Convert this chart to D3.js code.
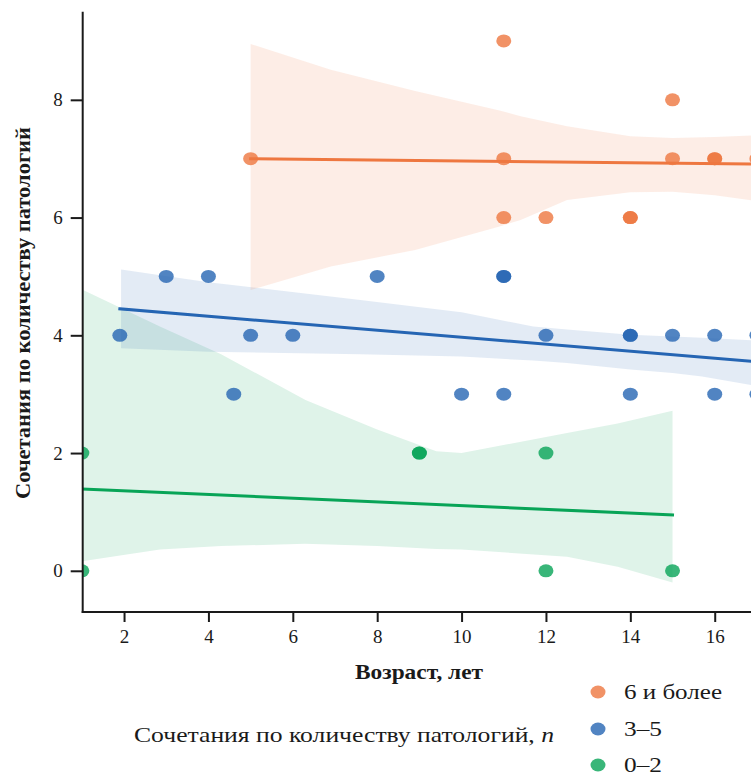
<!DOCTYPE html>
<html lang="ru">
<head>
    <meta charset="UTF-8">
    <title>Сочетания по количеству патологий</title>
    <style>
        body { margin: 0; background: #fff; }
        svg { display: block; }
        svg text { font-family: "Liberation Serif", "Times New Roman", "DejaVu Serif", serif; }
        .axis path, .axis line { stroke: #1a1a1a; stroke-width: 2; }
        .axis text { font-size: 19px; fill: #1a1a1a; }
        .lbl { font-size: 21px; font-weight: bold; fill: #1a1a1a; }
        .leg { font-size: 21px; fill: #1a1a1a; }
    </style>
</head>
<body>
    <svg width="751" height="777"></svg>
    <script src="https://d3js.org/d3.v7.min.js"></script>
    <script>
        // groups (legend order)
        const groups = ["6 и более", "3–5", "0–2"];
        const colors = ["#ee7740", "#2565b3", "#08a457"];

        // scatter points: age (x) and number of combined pathologies (y)
        const pointsX = [
            [5, 11, 11, 11, 12, 14, 14, 15, 15, 16, 16, 17],
            [1.9, 3, 4, 8, 11, 11, 5, 6, 12, 14, 14, 15, 16, 17, 4.6, 10, 11, 14, 16, 17],
            [1, 1, 9, 9, 12, 12, 15]
        ];
        const pointsY = [
            [7, 9, 7, 6, 6, 6, 6, 8, 7, 7, 7, 7],
            [4, 5, 5, 5, 5, 5, 4, 4, 4, 4, 4, 4, 4, 4, 3, 3, 3, 3, 3, 3],
            [2, 0, 2, 2, 2, 0, 0]
        ];

        // regression lines (start and end)
        const fitX = [[5, 17], [1.9, 17], [1, 15]];
        const fitY = [[7.0, 6.91], [4.45, 3.55], [1.39, 0.95]];

        // confidence bands
        const bandX = [
            [5, 6.9, 8.9, 10.9, 11.4, 12.5, 14, 15, 16, 17],
            [1.93, 4, 7.6, 10, 11.7, 12.5, 14, 15, 15.7, 17],
            [1, 2.85, 4.3, 6.3, 8, 9.4, 10, 12.5, 13.7, 15]
        ];
        const bandLo = [
            [4.77, 5.17, 5.45, 5.85, 5.96, 6.3, 6.43, 6.44, 6.38, 6.28],
            [3.78, 3.72, 3.68, 3.64, 3.57, 3.53, 3.42, 3.36, 3.3, 3.14],
            [0.16, 0.36, 0.42, 0.46, 0.42, 0.37, 0.36, 0.24, 0.07, -0.2]
        ];
        const bandHi = [
            [8.95, 8.51, 8.15, 7.82, 7.72, 7.55, 7.38, 7.35, 7.37, 7.4],
            [5.12, 4.9, 4.6, 4.39, 4.15, 4.1, 4.01, 3.98, 3.96, 3.91],
            [4.78, 4.15, 3.68, 2.9, 2.4, 2.03, 2.0, 2.34, 2.5, 2.72]
        ];

        const xTicks = [2, 4, 6, 8, 10, 12, 14, 16];
        const yTicks = [0, 2, 4, 6, 8];

        const svg = d3.select("svg");
        const plotLeft = 82.7, plotRight = 751, plotTop = 12.7, plotBottom = 612;

        const x = d3.scaleLinear().domain([1.02, 16.86]).range([plotLeft, plotRight]);
        const y = d3.scaleLinear().domain([-0.7, 9.48]).range([plotBottom, plotTop]);

        svg.append("clipPath").attr("id", "plot")
            .append("rect")
            .attr("x", plotLeft).attr("y", plotTop)
            .attr("width", plotRight - plotLeft).attr("height", plotBottom - plotTop);

        const plot = svg.append("g").attr("clip-path", "url(#plot)");

        // bands
        const area = d3.area()
            .x(d => x(d.x))
            .y0(d => y(d.lo))
            .y1(d => y(d.hi));
        [2, 1, 0].forEach(g => {
            const rows = bandX[g].map((v, i) => ({ x: v, lo: bandLo[g][i], hi: bandHi[g][i] }));
            plot.append("path")
                .attr("d", area(rows))
                .attr("fill", colors[g])
                .attr("fill-opacity", 0.13);
        });

        // regression lines
        const line = d3.line().x(d => x(d[0])).y(d => y(d[1]));
        [2, 1, 0].forEach(g => {
            plot.append("path")
                .attr("d", line(fitX[g].map((v, i) => [v, fitY[g][i]])))
                .attr("fill", "none")
                .attr("stroke", colors[g])
                .attr("stroke-width", 3)
                .attr("stroke-linecap", "square");
        });

        // points
        [2, 1, 0].forEach(g => {
            plot.selectAll(".pt" + g)
                .data(pointsX[g].map((v, i) => [v, pointsY[g][i]]))
                .enter()
                .append("ellipse")
                .attr("cx", d => x(d[0]))
                .attr("cy", d => y(d[1]))
                .attr("rx", 7.5)
                .attr("ry", 6.5)
                .attr("fill", colors[g])
                .attr("fill-opacity", 0.8);
        });

        // axes
        svg.append("g")
            .attr("class", "axis")
            .attr("transform", `translate(0,${plotBottom})`)
            .call(d3.axisBottom(x).tickValues(xTicks).tickSize(10).tickPadding(8).tickSizeOuter(0))
            .call(g => g.select(".domain").attr("d", `M${plotLeft},0H${plotRight}`));

        svg.append("g")
            .attr("class", "axis")
            .attr("transform", `translate(${plotLeft},0)`)
            .call(d3.axisLeft(y).tickValues(yTicks).tickSize(12).tickPadding(8).tickSizeOuter(0))
            .call(g => g.select(".domain").attr("d", `M0,${plotTop}V${plotBottom}`));

        svg.selectAll(".axis").attr("font-family", null);
        svg.selectAll(".axis .domain").attr("stroke-linecap", "square");

        // axis titles
        svg.append("text")
            .attr("class", "lbl")
            .attr("x", 419).attr("y", 679)
            .attr("text-anchor", "middle")
            .attr("textLength", 128)
            .attr("lengthAdjust", "spacingAndGlyphs")
            .text("Возраст, лет");

        svg.append("text")
            .attr("class", "lbl")
            .attr("transform", "translate(30,313) rotate(-90)")
            .attr("text-anchor", "middle")
            .attr("textLength", 372)
            .attr("lengthAdjust", "spacingAndGlyphs")
            .text("Сочетания по количеству патологий");

        // legend
        const legTitle = svg.append("text")
            .attr("class", "leg")
            .attr("x", 344).attr("y", 742)
            .attr("text-anchor", "middle")
            .attr("textLength", 420)
            .attr("lengthAdjust", "spacingAndGlyphs");
        legTitle.append("tspan").text("Сочетания по количеству патологий, ");
        legTitle.append("tspan").attr("font-style", "italic").text("n");

        const legY = [692, 729, 765];
        const legW = [98, 38, 38];
        groups.forEach((name, i) => {
            svg.append("ellipse")
                .attr("cx", 598).attr("cy", legY[i])
                .attr("rx", 7.5).attr("ry", 6.5)
                .attr("fill", colors[i])
                .attr("fill-opacity", 0.8);
            svg.append("text")
                .attr("class", "leg")
                .attr("x", 624).attr("y", legY[i] + 7)
                .attr("textLength", legW[i])
                .attr("lengthAdjust", "spacingAndGlyphs")
                .text(name);
        });
    </script>
</body>
</html>
